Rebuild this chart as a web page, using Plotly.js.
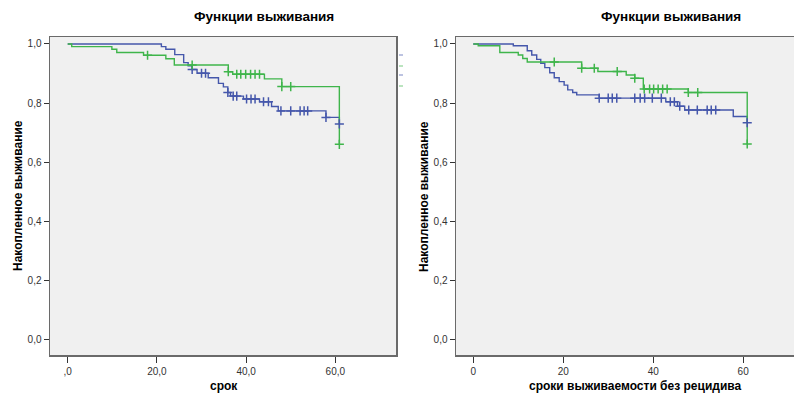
<!DOCTYPE html>
<html>
<head>
<meta charset="utf-8">
<script src="https://cdn.plot.ly/plotly-3.0.1.min.js"></script>
<style>html,body{margin:0;padding:0;background:#fff;}#chart{width:794px;height:394px;}</style>
</head>
<body>
<div id="chart"></div>
<script>
// ---- Data ----
// Left panel: "срок"
var leftBlueT = [0, 21, 22, 24, 26, 27, 27.9, 29, 31.5, 33.8, 34.9, 35.9, 36.5, 39.4, 43, 45.7, 47.2, 57.9, 60.9];
var leftBlueS = [1.0, 0.991, 0.982, 0.964, 0.937, 0.926, 0.914, 0.901, 0.886, 0.867, 0.855, 0.836, 0.824, 0.814, 0.805, 0.789, 0.774, 0.752, 0.730];
var leftBlueCensT = [27.9, 30, 30.9, 35.9, 37.1, 37.9, 40.1, 41.1, 42, 43.9, 45, 47.8, 50, 52.1, 53, 53.8, 57.9, 60.9];
var leftBlueCensS = [0.914, 0.901, 0.901, 0.836, 0.824, 0.824, 0.814, 0.814, 0.814, 0.805, 0.805, 0.774, 0.774, 0.774, 0.774, 0.774, 0.752, 0.730];

var leftGreenT = [0, 0.9, 9.9, 11, 17, 22, 23.9, 36, 37, 44.1, 48, 60.9];
var leftGreenS = [1.0, 0.991, 0.982, 0.971, 0.962, 0.950, 0.929, 0.906, 0.898, 0.882, 0.856, 0.661];
var leftGreenCensT = [17.9, 27.9, 36, 37.9, 38.8, 39.9, 41, 42, 43, 48, 50, 60.9];
var leftGreenCensS = [0.962, 0.929, 0.906, 0.898, 0.898, 0.898, 0.898, 0.898, 0.898, 0.856, 0.856, 0.661];

// Right panel: "сроки выживаемости без рецидива"
var rightBlueT = [0, 8.9, 12, 13, 14.1, 15, 15.9, 17, 18, 19.1, 20.2, 21, 22.1, 23, 28, 42.8, 45.4, 47, 57.8, 60.9];
var rightBlueS = [1.0, 0.994, 0.977, 0.963, 0.948, 0.935, 0.920, 0.903, 0.886, 0.873, 0.861, 0.845, 0.836, 0.828, 0.817, 0.805, 0.790, 0.777, 0.755, 0.734];
var rightBlueCensT = [28, 30, 30.9, 31.9, 35.9, 37.1, 38.1, 39.8, 41.8, 43.8, 44.7, 45.9, 47.9, 49.8, 52, 52.9, 53.9, 60.9];
var rightBlueCensS = [0.817, 0.817, 0.817, 0.817, 0.817, 0.817, 0.817, 0.817, 0.817, 0.805, 0.805, 0.790, 0.777, 0.777, 0.777, 0.777, 0.777, 0.734];

var rightGreenT = [0, 1.1, 5.9, 10, 11, 12, 24.1, 27.7, 34, 35.9, 37.8, 47.8, 60.9];
var rightGreenS = [1.0, 0.994, 0.971, 0.963, 0.951, 0.939, 0.918, 0.907, 0.895, 0.884, 0.848, 0.836, 0.662];
var rightGreenCensT = [18, 24.1, 26.9, 32, 35.9, 38, 39.2, 40.1, 41.1, 42.1, 43.1, 47.8, 49.9, 60.9];
var rightGreenCensS = [0.939, 0.918, 0.918, 0.907, 0.884, 0.848, 0.848, 0.848, 0.848, 0.848, 0.848, 0.836, 0.836, 0.662];

// Tick labels and texts
var yTickVals = [0, 0.2, 0.4, 0.6, 0.8, 1.0];
var yTickText = ['0,0', '0,2', '0,4', '0,6', '0,8', '1,0'];
var xTickVals = [0, 20, 40, 60];
var leftXTickText = [',0', '20,0', '40,0', '60,0'];
var rightXTickText = ['0', '20', '40', '60'];
var chartTitle = 'Функции выживания';
var yTitle = 'Накопленное выживание';
var leftXTitle = 'срок';
var rightXTitle = 'сроки выживаемости без рецидива';

// ---- Styling ----
var BLUE = '#4557ab';
var GREEN = '#3fb54b';
var FONT = 'Liberation Sans, Arial, sans-serif';
var W = 794, H = 394;

function stepTrace(t, s, color, xa, ya) {
  return {x: t, y: s, xaxis: xa, yaxis: ya, type: 'scatter', mode: 'lines',
    line: {shape: 'hv', color: color, width: 1.4}, hoverinfo: 'skip', showlegend: false};
}
function censTrace(t, s, color, xa, ya) {
  return {x: t, y: s, xaxis: xa, yaxis: ya, type: 'scatter', mode: 'markers',
    marker: {symbol: 'cross-thin', size: 6.5, line: {color: color, width: 1.5}},
    hoverinfo: 'skip', showlegend: false};
}

var data = [
  stepTrace(leftBlueT, leftBlueS, BLUE, 'x', 'y'),
  stepTrace(leftGreenT, leftGreenS, GREEN, 'x', 'y'),
  censTrace(leftBlueCensT, leftBlueCensS, BLUE, 'x', 'y'),
  censTrace(leftGreenCensT, leftGreenCensS, GREEN, 'x', 'y'),
  stepTrace(rightBlueT, rightBlueS, BLUE, 'x2', 'y2'),
  stepTrace(rightGreenT, rightGreenS, GREEN, 'x2', 'y2'),
  censTrace(rightBlueCensT, rightBlueCensS, BLUE, 'x2', 'y2'),
  censTrace(rightGreenCensT, rightGreenCensS, GREEN, 'x2', 'y2')
];

var yDomain = [1 - 355 / H, 1 - 37 / H];
var yRange = [-0.0507, 1.0236];
var frame = '#6a6a6a';
var tickFont = {family: FONT, size: 10, color: '#333'};

function yAxis(anchor, mirror) {
  return {domain: yDomain, range: yRange, anchor: anchor, tickvals: yTickVals, ticktext: yTickText,
    showgrid: false, zeroline: false, showline: true, mirror: mirror, linecolor: frame, linewidth: 1.5,
    ticks: 'outside', ticklen: 5, tickcolor: '#333', tickfont: tickFont, fixedrange: true};
}
function xAxis(domain, range, ticktext, anchor) {
  return {domain: domain, range: range, anchor: anchor, tickvals: xTickVals, ticktext: ticktext,
    showgrid: false, zeroline: false, showline: true, mirror: true, linecolor: frame, linewidth: 1.5,
    ticks: 'outside', ticklen: 6, tickcolor: '#333', tickfont: tickFont, fixedrange: true};
}

function ann(text, x, y, size, angle) {
  return {text: '<b>' + text + '</b>', x: x / W, y: 1 - y / H, xref: 'paper', yref: 'paper',
    xanchor: 'center', yanchor: 'middle', showarrow: false, textangle: angle || 0,
    font: {family: FONT, size: size, color: '#000'}};
}

var legendMarks = [[55, BLUE], [66, GREEN], [75, BLUE], [86, GREEN]].map(function (m) {
  return {type: 'line', xref: 'paper', yref: 'paper', x0: 399 / W, x1: 403 / W,
    y0: 1 - m[0] / H, y1: 1 - m[0] / H, line: {color: m[1], width: 1}, opacity: 0.7};
});

var layout = {
  width: W, height: H,
  margin: {l: 0, r: 0, t: 0, b: 0},
  paper_bgcolor: '#ffffff',
  plot_bgcolor: '#f0f0f0',
  showlegend: false,
  xaxis: xAxis([50 / W, 396 / W], [-3.97, 73.6], leftXTickText, 'y'),
  yaxis: yAxis('x', true),
  xaxis2: xAxis([456 / W, 1], [-3.84, 71.3], rightXTickText, 'y2'),
  yaxis2: yAxis('x2', false),
  annotations: [
    ann(chartTitle, 264, 16, 13.5),
    ann(chartTitle, 671, 16, 13.5),
    ann(leftXTitle, 224, 386, 12),
    ann(rightXTitle, 635, 386, 12),
    ann(yTitle, 18, 196, 12, -90),
    ann(yTitle, 424, 196, 12, -90)
  ],
  shapes: legendMarks
};

Plotly.newPlot('chart', data, layout, {staticPlot: true, displayModeBar: false});
</script>
</body>
</html>
